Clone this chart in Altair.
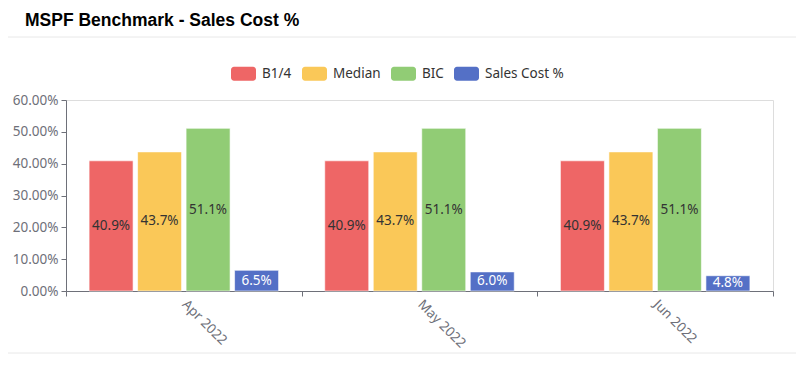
import altair as alt
import pandas as pd

months = ["Apr 2022", "May 2022", "Jun 2022"]
series = ["B1/4", "Median", "BIC", "Sales Cost %"]
b14 = [40.9, 40.9, 40.9]
median = [43.7, 43.7, 43.7]
bic = [51.1, 51.1, 51.1]
sales_cost = [6.5, 6.0, 4.8]
colors = ["#EE6666", "#FAC858", "#91CC75", "#5470C6"]
y_ticks = [0, 0.1, 0.2, 0.3, 0.4, 0.5, 0.6]

rows = []
for s, vals in zip(series, [b14, median, bic, sales_cost]):
    for m, v in zip(months, vals):
        rows.append({"month": m, "series": s, "value": v / 100.0})
df = pd.DataFrame(rows)

FONT = "Noto Sans"
FS = 13.5
sym = ("M-0.76,-0.56 L0.76,-0.56 A0.24,0.24 0 0 1 1,-0.32 L1,0.32 "
       "A0.24,0.24 0 0 1 0.76,0.56 L-0.76,0.56 A0.24,0.24 0 0 1 -1,0.32 "
       "L-1,-0.32 A0.24,0.24 0 0 1 -0.76,-0.56 Z")

x = alt.X("month:N", sort=months, title=None,
          scale=alt.Scale(paddingInner=0, paddingOuter=0),
          axis=alt.Axis(labelAngle=45, labelAlign="left", labelBaseline="middle",
                        labelPadding=6, tickBand="extent", tickSize=5,
                        domainColor="#6E7079", tickColor="#6E7079",
                        labelColor="#6E7079", labelFont=FONT, labelFontSize=FS,
                        grid=False))
xo = alt.XOffset("series:N", sort=series,
                 scale=alt.Scale(domain=series, paddingInner=0.093, paddingOuter=0.476))

y_axis = alt.Axis(format=".2%", values=y_ticks, labelOverlap=False,
                  grid=False, tickSize=5, labelPadding=3,
                  domainColor="#6E7079", tickColor="#6E7079",
                  labelColor="#6E7079", labelFont=FONT, labelFontSize=FS)
y_scale = alt.Scale(domain=[0, 0.6])

bars = alt.Chart(df).mark_bar(stroke="white", strokeWidth=1, strokeOpacity=0.6).encode(
    x=x, xOffset=xo,
    y=alt.Y("value:Q", title=None, scale=y_scale, axis=y_axis),
    color=alt.Color("series:N", sort=series,
                    scale=alt.Scale(domain=series, range=colors),
                    legend=alt.Legend(orient="none", direction="horizontal", columns=4,
                                      legendX=165, legendY=-39, title=None, padding=0,
                                      symbolType=sym, symbolSize=625, symbolStrokeWidth=0,
                                      symbolOpacity=1,
                                      labelFont=FONT, labelFontSize=FS, labelColor="#333",
                                      labelOffset=6, columnPadding=10)),
)

labels = alt.Chart(df).transform_calculate(
    mid="datum.value / 2"
).mark_text(font=FONT, fontSize=FS, baseline="middle", align="center").encode(
    x=x, xOffset=xo,
    y=alt.Y("mid:Q", title=None, scale=y_scale, axis=y_axis),
    text=alt.Text("value:Q", format=".1%"),
    color=alt.condition("datum.series === 'Sales Cost %'", alt.value("white"), alt.value("#333333")),
)

top_line = alt.Chart(pd.DataFrame({"a": [0]})).mark_rule(color="#e8e8e8", strokeWidth=1).encode(
    x=alt.value(-63), x2=alt.value(731), y=alt.value(-63))
bottom_line = alt.Chart(pd.DataFrame({"a": [0]})).mark_rule(color="#e8e8e8", strokeWidth=1).encode(
    x=alt.value(-63), x2=alt.value(731), y=alt.value(253))

chart = alt.layer(top_line, bottom_line, bars, labels).properties(
    width=707, height=191,
    title=alt.TitleParams("MSPF Benchmark - Sales Cost %", anchor="start", frame="group",
                          dx=-41, dy=-7, font="Liberation Sans", fontSize=17.5,
                          fontWeight="bold", color="#000000", offset=0),
    padding={"left": 58, "top": 92, "right": 23, "bottom": 86},
    autosize=alt.AutoSizeParams(type="none"),
).configure_view(stroke=None).configure(background="white")

chart.save("out.html", embed_options={"renderer": "svg", "actions": False})
